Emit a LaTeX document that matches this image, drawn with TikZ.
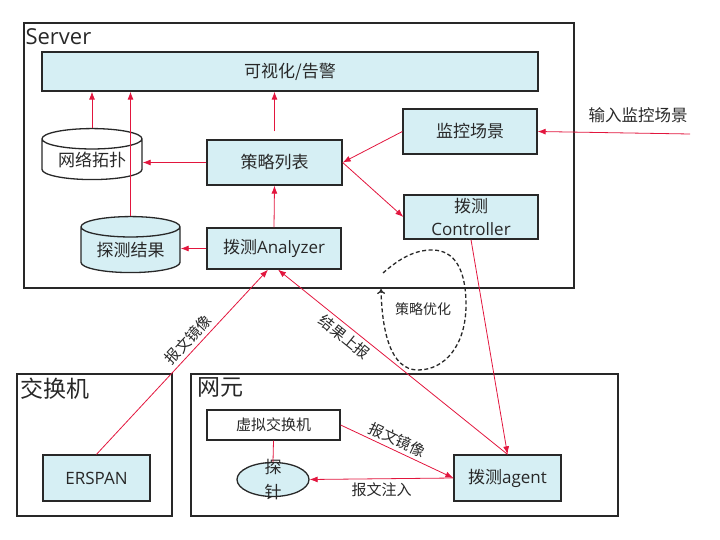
\documentclass[tikz,border=0pt]{standalone}
\usepackage{fontspec}
\setmainfont{Open Sans}
\newfontfamily\cjk{Noto Sans CJK SC}
\usetikzlibrary{arrows.meta,positioning,shapes.geometric}
\definecolor{boxfill}{RGB}{214,239,244}
\definecolor{linkred}{RGB}{226,22,62}
\definecolor{edgegray}{RGB}{40,40,40}
\newcommand{\zhtext}[1]{{\cjk #1}}

\begin{document}
\begin{tikzpicture}[x=1pt,y=-1pt,
      frame/.style={
         draw=edgegray,
         line width=1.3pt,
         inner sep=0pt},
      module/.style={
         draw=edgegray,
         line width=1.3pt,
         fill=boxfill,
         inner sep=0pt,
         align=center,
         text=edgegray,
         font=\fontsize{17}{21}\selectfont},
      store/.style={
         cylinder,
         shape border rotate=90,
         aspect=0.3,
         draw=edgegray,
         line width=1.3pt,
         inner sep=0pt,
         text=edgegray,
         font=\cjk\fontsize{17}{21}\selectfont},
      title/.style={
         anchor=north west,
         text=edgegray,
         font=\cjk\fontsize{23}{26}\selectfont},
      tag/.style={
         text=edgegray,
         font=\cjk\fontsize{15}{18}\selectfont},
      link/.style={draw=linkred, line width=0.8pt, -{Latex[length=8pt,width=6pt]}},
      plain/.style={draw=linkred, line width=0.8pt}
      ]
      \useasboundingbox (0,0) rectangle (720,540);

      % server side
      \node[frame, minimum width=550pt, minimum height=265pt] (server) at (299,155.5) {};
      \node[title, font=\fontsize{22}{26}\selectfont, inner xsep=2pt, inner ysep=6pt] (servertitle) at (server.north west) {Server};
      \node[module, minimum width=496pt, minimum height=39pt] (vis) at (290,71.5) {\zhtext{可视化/告警}};
      \node[store, fill=white, minimum width=100pt, minimum height=51pt] (topo) at (92,159.5) {网络拓扑};
      \node[store, fill=boxfill, minimum width=99pt, minimum height=56pt] (result) at (130.5,250) {探测结果};
      \node[module, minimum width=135pt, minimum height=45pt] (policy) at (274.5,162.5) {\zhtext{策略列表}};
      \node[module, minimum width=134pt, minimum height=41pt] (analyzer) at (274,248.5) {\zhtext{拨测}Analyzer};
      \node[module, minimum width=134pt, minimum height=45pt] (monitor) at (470,131.5) {\zhtext{监控场景}};
      \node[module, minimum width=134pt, minimum height=44pt, font=\fontsize{17}{23}\selectfont] (controller) at (471,217) {\zhtext{拨测}\\Controller};
      \node[tag, font=\cjk\fontsize{16.5}{19}\selectfont] (input) at (638,115) {输入监控场景};
      \coordinate (inputend) at (690,134);

      % switch and network element
      \node[frame, minimum width=155pt, minimum height=142pt] (switch) at (94.5,445) {};
      \node[title, inner sep=4pt] (switchtitle) at (switch.north west) {交换机};
      \node[module, minimum width=107pt, minimum height=46pt] (erspan) at (96.5,478) {ERSPAN};
      \node[frame, minimum width=427pt, minimum height=142pt] (ne) at (404.5,445) {};
      \node[title, inner xsep=7pt, inner ysep=4pt] (netitle) at (ne.north west) {网元};
      \node[module, fill=white, minimum width=133pt, minimum height=30pt, font=\cjk\fontsize{15}{18}\selectfont] (vswitch) at (273.5,425) {虚拟交换机};
      \node[ellipse, draw=edgegray, line width=1.3pt, fill=boxfill, inner sep=0pt, minimum width=72pt, minimum height=34pt,
            label={[align=center, text=edgegray, font=\cjk\fontsize{17}{25}\selectfont]center:探\\针}] (probe) at (273,479.5) {};
      \node[module, minimum width=107pt, minimum height=46pt] (agent) at (507.5,478) {\zhtext{拨测}agent};

      % links
      \draw[link] (topo.north) -- (topo.north |- vis.south);
      \draw[link] (result.north) -- (result.north |- vis.south);
      \draw[link, shorten <=8pt] (policy.north) -- (policy.north |- vis.south);
      \draw[link] (policy.west) -- (policy.west -| topo.east);
      \draw[link] (analyzer.north) -- (policy.south);
      \draw[link] (analyzer.west) -- (analyzer.west -| result.east);
      \draw[link] (monitor.west) -- (policy.east);
      \draw[link] (policy.east) -- (controller.west);
      \draw[link] (inputend) -- (monitor.east);
      \draw[link] (controller.south) -- (agent.north);
      \draw[link] (erspan.north) -- node[tag, sloped, above, pos=0.58] {报文镜像} ([xshift=-6pt]analyzer.south);
      \draw[link] (agent.north) -- node[tag, sloped, below, pos=0.68] {结果上报} ([xshift=4pt]analyzer.south);
      \draw[plain] (vswitch.south) -- (probe.north);
      \draw[link] (vswitch.east) -- node[tag, sloped, above, pos=0.46] {报文镜像} (agent.west);
      \draw[link] (agent.west) -- node[tag, below] {报文注入} (probe.east);

      % optimisation loop
      \draw[edgegray, line width=1.3pt, dash pattern=on 4pt off 2.5pt, -{To[length=5pt,width=8pt]}]
         (383,273) .. controls (400,258) and (415,250) .. (432,250)
         .. controls (455,250) and (466,270) .. (466,305)
         .. controls (466,345) and (445,370) .. (418,370)
         .. controls (390,370) and (382,330) .. (381,289);
      \node[tag, font=\cjk\fontsize{14}{17}\selectfont] (looptag) at (423,309) {策略优化};
\end{tikzpicture}
\end{document}
